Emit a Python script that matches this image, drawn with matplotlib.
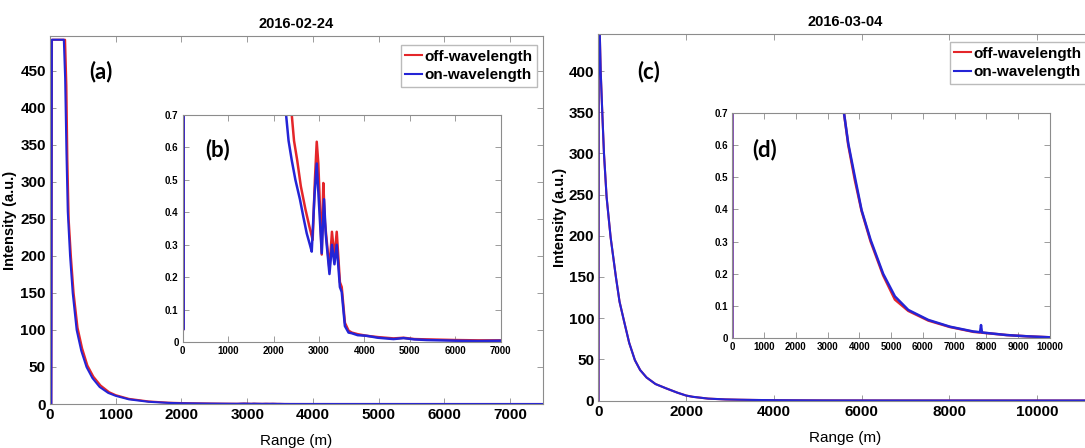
import matplotlib.pyplot as plt

plt.rcParams['font.family'] = ['Liberation Sans Narrow', 'Liberation Sans', 'DejaVu Sans']

# 2016-02-24 lidar returns
r_off_a = [0, 20, 30, 230, 250, 265, 285, 320, 360, 420, 490, 570, 660, 770, 900, 1000,
           1200, 1500, 1800, 2100, 2400, 2450, 2520, 2600, 2700, 2790, 2860, 2910, 2950,
           2985, 3060, 3095, 3130, 3230, 3285, 3340, 3390, 3460, 3500, 3570, 3650, 3720,
           3850, 4050, 4300, 4640, 4860, 5100, 5370, 6000, 6500, 7000, 7500]
i_off_a = [0.04, 0.04, 492, 492, 430, 330, 250, 198, 150, 103, 75, 52, 37, 25, 16, 12,
           7, 3.5, 1.8, 1.05, 0.7, 0.62, 0.56, 0.48, 0.41, 0.355, 0.315, 0.5, 0.617,
           0.55, 0.27, 0.49, 0.37, 0.225, 0.34, 0.26, 0.34, 0.185, 0.17, 0.06, 0.036, 0.03,
           0.025, 0.02, 0.016, 0.012, 0.014, 0.01, 0.009, 0.007, 0.006, 0.006, 0.005]
r_on_a = [0, 20, 28, 210, 230, 250, 270, 305, 345, 405, 475, 555, 645, 755, 885, 1000,
          1200, 1500, 1800, 2000, 2275, 2330, 2400, 2480, 2580, 2655, 2730, 2800, 2840,
          2900, 2950, 2990, 3060, 3110, 3150, 3230, 3285, 3340, 3390, 3460, 3500, 3570,
          3650, 3720, 3850, 4050, 4300, 4640, 4860, 5100, 5370, 6000, 6500, 7000, 7500]
i_on_a = [0.04, 0.04, 492, 492, 440, 340, 260, 200, 150, 100, 72, 50, 35, 23, 15, 11,
          6.3, 3.0, 1.5, 1.0, 0.7, 0.62, 0.56, 0.5, 0.44, 0.386, 0.335, 0.3, 0.279,
          0.45, 0.55, 0.45, 0.274, 0.44, 0.33, 0.21, 0.30, 0.24, 0.30, 0.17, 0.155, 0.05,
          0.03, 0.028, 0.022, 0.02, 0.014, 0.01, 0.013, 0.009, 0.007, 0.005, 0.004, 0.005,
          0.004]

# 2016-03-04 lidar returns
r_off_c = [0, 5, 30, 50, 90, 125, 185, 277, 397, 480, 580, 700, 830, 950, 1095, 1300,
           1550, 1800, 2000, 2150, 2500, 2900, 3200, 3515, 3650, 3860, 4070, 4355, 4750,
           5120, 5540, 6170, 6850, 7590, 7800, 8640, 9300, 10000, 11250]
i_off_c = [0, 480, 445, 400, 345, 300, 247, 198, 150, 120, 97, 70, 49, 37, 28, 20,
           14.6, 9.5, 6.0, 4.5, 2.3, 1.3, 0.95, 0.7, 0.6, 0.49, 0.395, 0.3, 0.195,
           0.12, 0.085, 0.055, 0.035, 0.02, 0.018, 0.01, 0.006, 0.003, 0.002]
r_on_c = [0, 5, 30, 50, 90, 125, 185, 277, 397, 480, 580, 700, 830, 950, 1095, 1300,
          1550, 1800, 2000, 2150, 2500, 2900, 3200, 3515, 3650, 3860, 4070, 4355, 4750,
          5120, 5540, 6170, 6850, 7590, 7800, 7830, 7860, 8640, 9300, 10000, 11250]
i_on_c = [0, 480, 445, 400, 345, 300, 247, 198, 150, 120, 97, 70, 49, 37, 28, 20,
          14.6, 9.5, 6.0, 4.5, 2.3, 1.3, 0.95, 0.7, 0.605, 0.5, 0.398, 0.305, 0.2,
          0.13, 0.088, 0.057, 0.036, 0.021, 0.019, 0.041, 0.018, 0.01, 0.006, 0.003, 0.002]

red = '#e4262a'
blue = '#2424d6'
gray = '#8c8c8c'
W, H = 1085, 448


def style(ax, size):
    for s in ax.spines.values():
        s.set_color(gray)
        s.set_linewidth(0.8)
    ax.tick_params(direction='in', top=True, right=True, length=4, width=0.6,
                   color=gray, labelsize=size, pad=3)
    for lab in ax.get_xticklabels() + ax.get_yticklabels():
        lab.set_fontweight('bold')


def main_panel(rect, title, xmax, ymax, xticks, yticks, r_off, i_off, r_on, i_on, ylab_x, xlab_y, leg_anchor):
    ax = fig.add_axes(rect)
    ax.plot(r_off, i_off, color=red, lw=1.5, label='off-wavelength')
    ax.plot(r_on, i_on, color=blue, lw=1.5, label='on-wavelength')
    ax.set_xlim(0, xmax)
    ax.set_ylim(0, ymax)
    ax.set_xticks(xticks)
    ax.set_yticks(yticks)
    style(ax, 11)
    ax.set_title(title, fontsize=10.5, fontweight='bold', pad=6)
    ax.set_xlabel('Range (m)', fontsize=11)
    ax.set_ylabel('Intensity (a.u.)', fontsize=10.5, fontweight='bold', family='Liberation Sans')
    ax.yaxis.set_label_coords(ylab_x, 0.5)
    ax.xaxis.set_label_coords(0.5, xlab_y)
    ax.legend(loc='upper right', bbox_to_anchor=leg_anchor, borderaxespad=0,
              prop={'size': 11, 'weight': 'bold'}, handlelength=1.1, handletextpad=0.15,
              borderpad=0.3, labelspacing=0.3, fancybox=False, edgecolor='#bbbbbb',
              framealpha=1)
    return ax


def inset(rect, xmax, xticks, r_off, i_off, r_on, i_on):
    ax = fig.add_axes(rect)
    ax.plot(r_off, i_off, color=red, lw=1.8)
    ax.plot(r_on, i_on, color=blue, lw=1.8)
    ax.set_xlim(0, xmax)
    ax.set_ylim(0, 0.7)
    ax.set_xticks(xticks)
    ax.set_yticks([0, 0.1, 0.2, 0.3, 0.4, 0.5, 0.6, 0.7])
    ax.set_yticklabels(['0', '0.1', '0.2', '0.3', '0.4', '0.5', '0.6', '0.7'])
    style(ax, 7)
    return ax


fig = plt.figure(figsize=(10.85, 4.48), dpi=100)

main_panel([0.0461, 0.0982, 0.4544, 0.8214], '2016-02-24', 7500, 497,
           range(0, 7001, 1000), range(0, 451, 50),
           r_off_a, i_off_a, r_on_a, i_on_a, -0.066, -0.082, (0.988, 0.9755))
inset([0.1684, 0.2359, 0.2931, 0.508], 7000, range(0, 7001, 1000),
      r_off_a, i_off_a, r_on_a, i_on_a)

main_panel([0.5516, 0.106, 0.4548, 0.818], '2016-03-04', 11250, 445,
           range(0, 10001, 2000), range(0, 401, 50),
           r_off_c, i_off_c, r_on_c, i_on_c, -0.064, -0.083, (0.988, 0.978))
inset([0.6749, 0.2449, 0.2928, 0.5036], 10000, range(0, 10001, 1000),
      r_off_c, i_off_c, r_on_c, i_on_c)

for txt, px, py in [('(a)', 101, 72), ('(b)', 218, 150), ('(c)', 649, 72), ('(d)', 765, 150)]:
    fig.text(px / W, 1 - py / H, txt, fontsize=16, fontweight='bold', family='Lato',
             ha='center', va='center')

fig.savefig('out.png', dpi=100)
